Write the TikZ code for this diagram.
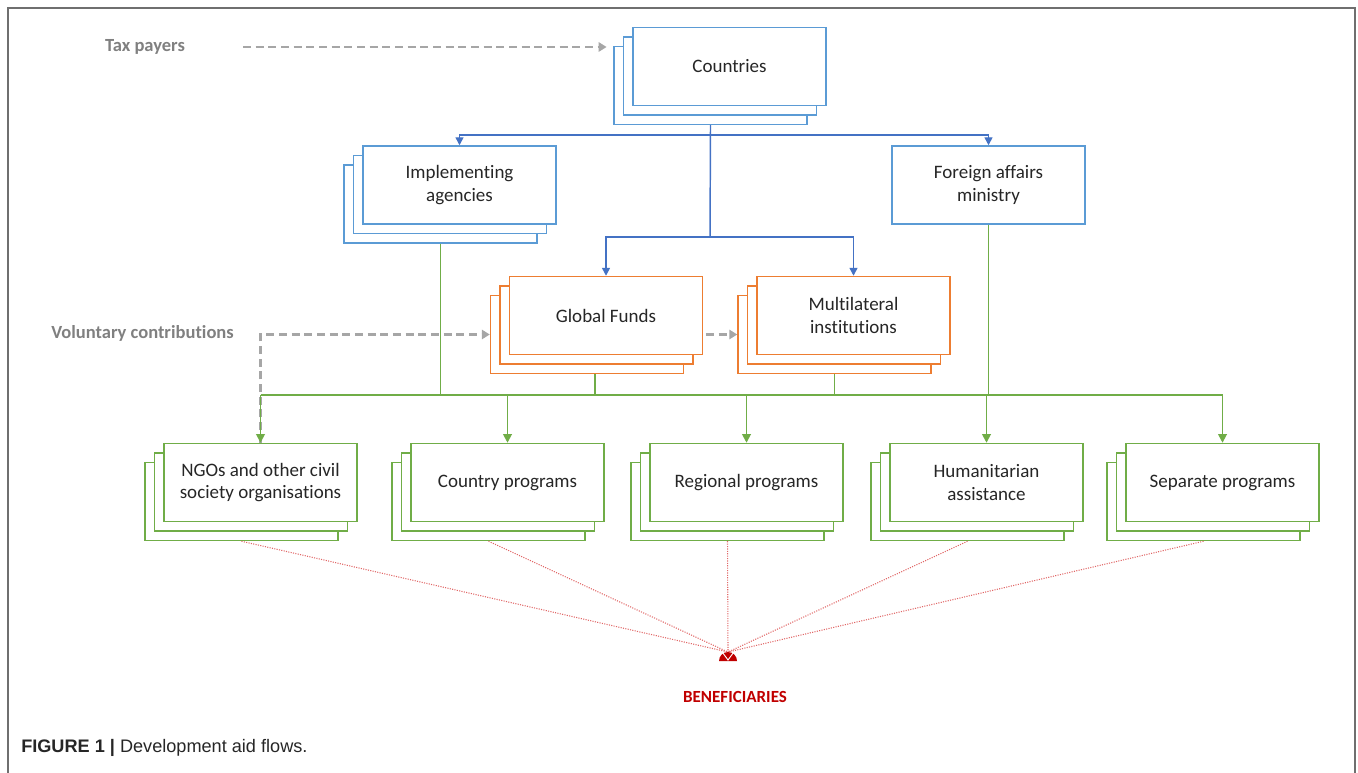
\documentclass[tikz,border=0pt]{standalone}
\usepackage{fontspec}
\setmainfont{Carlito}[Ligatures=NoCommon]
\newfontfamily\capfont{Liberation Sans}
\usetikzlibrary{arrows.meta,calc}
\definecolor{bblue}{HTML}{5B9BD5}
\definecolor{ablue}{HTML}{4472C4}
\definecolor{borange}{HTML}{ED7D31}
\definecolor{bgreen}{HTML}{70AD47}
\definecolor{dgrey}{HTML}{A6A6A6}
\definecolor{lgrey}{HTML}{808080}
\definecolor{bred}{HTML}{C00000}
\definecolor{lred}{HTML}{E06666}
\definecolor{txt}{HTML}{262626}
\definecolor{framec}{HTML}{6F6F6F}
\newcommand{\stackbox}[5]{%
  \node[box,draw=#4] (#1-3) at (#2-19,#3+19) {};
  \node[box,draw=#4] (#1-2) at (#2-9.5,#3+9.5) {};
  \node[box,draw=#4] (#1) at (#2,#3) {#5};
}
\tikzset{
  box/.style={rectangle, fill=white, line width=1.1pt, minimum width=144.75pt,
    minimum height=58.5pt, inner sep=0pt, align=center,
    font=\fontsize{14.25}{17}\selectfont, text=txt},
  bline/.style={draw=ablue, line width=1.1pt},
  barrow/.style={bline, -{Triangle[width=6pt,length=6pt]}},
  gline/.style={draw=bgreen, line width=1.3pt},
  garrow/.style={gline, -{Triangle[width=6.5pt,length=6.5pt]}},
  darrow/.style={draw=dgrey, line width=2.2pt, dash pattern=on 6pt off 3.5pt,
    -{Triangle[width=7pt,length=6pt]}},
  rline/.style={draw=lred, line width=0.8pt, densely dotted},
  side/.style={font=\bfseries\fontsize{13.9}{16}\selectfont, text=lgrey},
}
\begin{document}
\begin{tikzpicture}[x=0.75pt,y=-0.75pt]
\useasboundingbox (0,0) rectangle (1358,773);
\draw[framec, line width=1.5pt] (8,773) -- (8,8) -- (1355,8) -- (1355,773);

% boxes
\stackbox{cty}{729.5}{66.5}{bblue}{Countries}
\stackbox{impl}{459.5}{185}{bblue}{Implementing\\agencies}
\node[box,draw=bblue] (fam) at (988.5,185) {Foreign affairs\\ministry};
\stackbox{gf}{606}{315.5}{borange}{Global Funds}
\stackbox{ml}{853.5}{315.5}{borange}{Multilateral\\institutions}
\stackbox{ngo}{260.5}{482.5}{bgreen}{NGOs and other civil\\society organisations}
\stackbox{cp}{507.5}{482.5}{bgreen}{Country programs}
\stackbox{rp}{746.5}{482.5}{bgreen}{Regional programs}
\stackbox{ha}{986.5}{482.5}{bgreen}{Humanitarian\\assistance}
\stackbox{sp}{1222.5}{482.5}{bgreen}{Separate programs}

% side labels
\node[side] (taxp) at (145,47) {Tax payers};
\node[side] (vol) at (142.5,333) {Voluntary contributions};

% blue connectors
\coordinate (btop) at (710,135);
\coordinate (bmid) at (710,237);
\draw[bline] (cty-3.south) -- (bmid);
\draw[barrow] (btop) -| (impl.north);
\draw[barrow] (btop) -| (fam.north);
\draw[barrow] (bmid) -| (gf.north);
\draw[barrow] (bmid) -| (ml.north);

% grey dashed connectors
\coordinate (taxs) at (243,47);
\draw[darrow, shorten >=5pt] (taxs) -- (cty-3.west |- taxs);
\draw[darrow] (ngo.north) |- (gf-3.west);
\draw[darrow, shorten <=2pt] (gf.east |- gf-3.west) -- (ml-3.west);

% green connectors
\coordinate (gbus) at (0,395);
\coordinate (gfo) at ($(gf-3.south)+(8,0)$);
\draw[gline] (impl-3.south) -- (impl-3.south |- gbus);
\draw[gline] (gfo) -- (gfo |- gbus);
\draw[gline] (ml-3.south) -- (ml-3.south |- gbus);
\draw[gline] (fam.south) -- (fam.south |- gbus);
\draw[gline] (ngo.north |- gbus) -- (sp.north |- gbus);
\foreach \n in {ngo,cp,rp,ha,sp}{
  \draw[garrow] (\n.north |- gbus) -- (\n.north);
}

% red lines to beneficiaries
\coordinate (ben) at (728,652);
\foreach \n in {ngo,cp,rp,ha,sp}{
  \draw[rline] (\n-3.south) -- (ben);
}
\fill[bred] (719,661) arc[start angle=180,end angle=0,radius=6.75pt] -- cycle;
\draw[white, line width=0.7pt] (722.5,652.5) -- (728,660) -- (733.5,652.5);
\node[font=\bfseries\fontsize{12.75}{15}\selectfont, text=bred] (benef) at (735,697) {BENEFICIARIES};

% caption
\node[anchor=west, inner sep=0pt, font=\capfont\fontsize{13.6}{16}\selectfont, text=black!85] (caption) at (21,748)
  {\textbf{FIGURE 1 |} Development aid flows.};
\end{tikzpicture}
\end{document}
